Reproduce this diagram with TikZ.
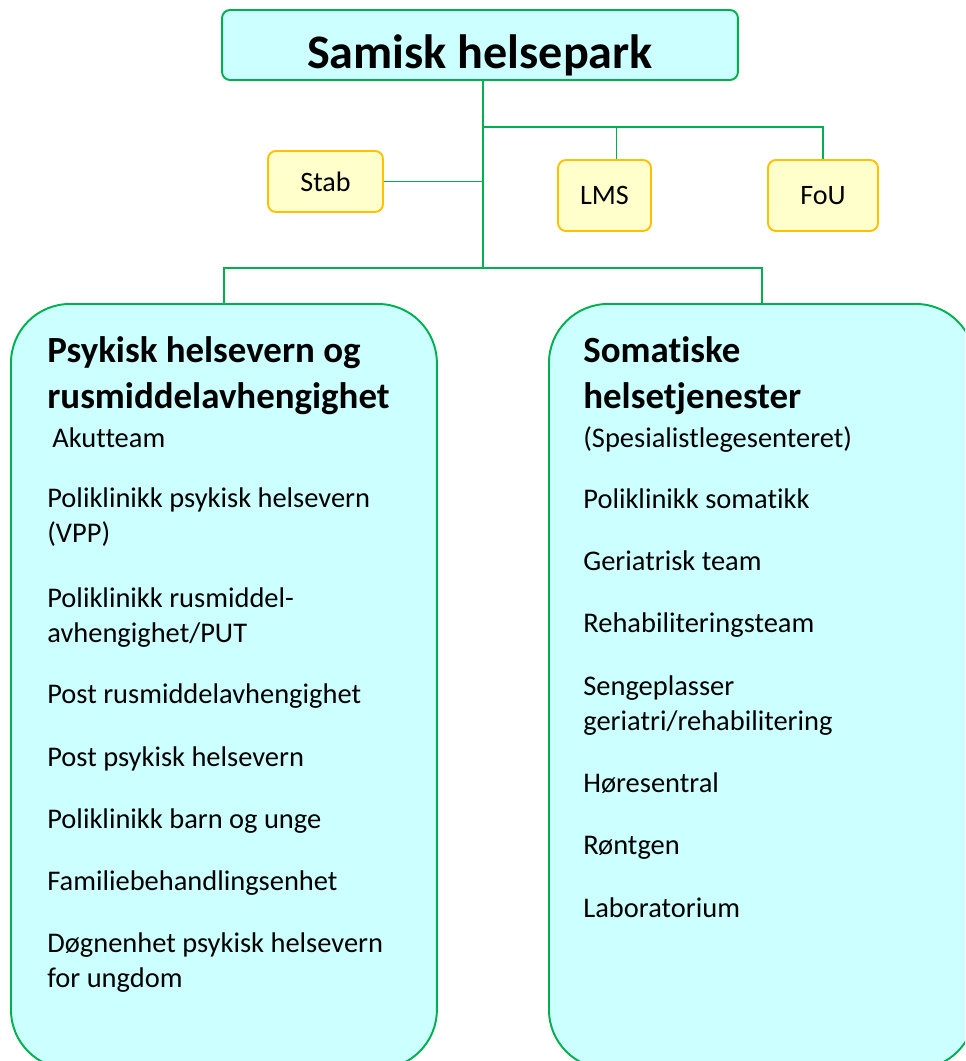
\documentclass[tikz,border=0pt]{standalone}
\usepackage{fontspec}
\setmainfont{Carlito}[Ligatures=NoCommon]
\usetikzlibrary{positioning}
\definecolor{boxcyan}{HTML}{CCFFFF}
\definecolor{linegreen}{HTML}{00B050}
\definecolor{boxyellow}{HTML}{FFFFCC}
\definecolor{edgeyellow}{HTML}{FFC000}

\begin{document}
\begin{tikzpicture}[
		x=0.02cm, y=-0.02cm,
		hovedboks/.style={draw=linegreen, line width=1.1pt, fill=boxcyan, rounded corners=0.16cm, inner sep=0pt, minimum width=10.32cm, minimum height=1.4cm, font=\fontsize{27.4}{33}\selectfont\bfseries, text height=0.96cm, text depth=0pt},
		stabboks/.style={draw=edgeyellow, line width=1.1pt, fill=boxyellow, rounded corners=0.16cm, inner sep=0pt, font=\fontsize{16}{19.5}\selectfont},
		avdeling/.style={draw=linegreen, line width=1.1pt, fill=boxcyan, rounded corners=1.18cm, inner sep=0pt, minimum width=8.52cm, minimum height=15.3cm, anchor=north west},
		tittel/.style={anchor=base west, inner sep=0pt, align=left, font=\fontsize{21}{26}\selectfont\bfseries},
		enhet/.style={anchor=base west, inner sep=0pt, align=left, font=\fontsize{16.2}{19.6}\selectfont},
		linje/.style={draw=linegreen, line width=1.1pt}
		]
		\useasboundingbox (0,0) rectangle (965,1061);
		\clip (0,0) rectangle (965,1061);
		
		% Boksene
		\node[hovedboks] (topp) at (480,45) {Samisk helsepark};
		\node[stabboks, minimum width=2.3cm, minimum height=1.22cm] (stab) at (325.5,181.5) {Stab};
		\node[stabboks, minimum width=1.86cm, minimum height=1.42cm] (lms) at (604.5,195.5) {LMS};
		\node[stabboks, minimum width=2.2cm, minimum height=1.42cm] (fou) at (823,195.5) {FoU};
		\node[avdeling] (psyk) at (10,303) {};
		\node[avdeling] (soma) at (548,303) {};
		
		% Psykisk helsevern (base = siste linje)
		\node[tittel] (psyktittel) at (47,408) {Psykisk helsevern og\\rusmiddelavhengighet};
		\node[enhet] (akutt) at (52,447) {Akutteam};
		\node[enhet] (p1) at (47,542) {Poliklinikk psykisk helsevern\\(VPP)};
		\node[enhet] (p2) at (47,642) {Poliklinikk rusmiddel-\\avhengighet/PUT};
		\node[enhet] (p3) at (47,703) {Post rusmiddelavhengighet};
		\node[enhet] (p4) at (47,766) {Post psykisk helsevern};
		\node[enhet] (p5) at (47,828) {Poliklinikk barn og unge};
		\node[enhet] (p6) at (47,890) {Familiebehandlingsenhet};
		\node[enhet] (p7) at (47,987) {Døgnenhet psykisk helsevern\\for ungdom};
		
		% Somatikk
		\node[tittel] (somatittel) at (583,408) {Somatiske\\helsetjenester};
		\node[enhet] (sls) at (583,447) {(Spesialistlegesenteret)};
		\node[enhet] (s1) at (583,508) {Poliklinikk somatikk};
		\node[enhet] (s2) at (583,570) {Geriatrisk team};
		\node[enhet] (s3) at (583,632) {Rehabiliteringsteam};
		\node[enhet] (s4) at (583,730) {Sengeplasser\\geriatri/rehabilitering};
		\node[enhet] (s5) at (583,792) {Høresentral};
		\node[enhet] (s6) at (583,854) {Røntgen};
		\node[enhet] (s7) at (583,917) {Laboratorium};
		
		% Linjene
		\coordinate (gren) at (483,127);
		\coordinate (deling) at (483,268);
		\draw[linje] (topp.south -| deling) -- (deling);
		\draw[linje] (stab.east) -- (stab.east -| deling);
		\draw[linje] (gren) -| ([xshift=0.24cm]lms.north);
		\draw[linje] (gren) -| (fou.north);
		\draw[linje] (deling) -| (psyk.north);
		\draw[linje] (deling) -| (soma.north);
	\end{tikzpicture}
\end{document}
